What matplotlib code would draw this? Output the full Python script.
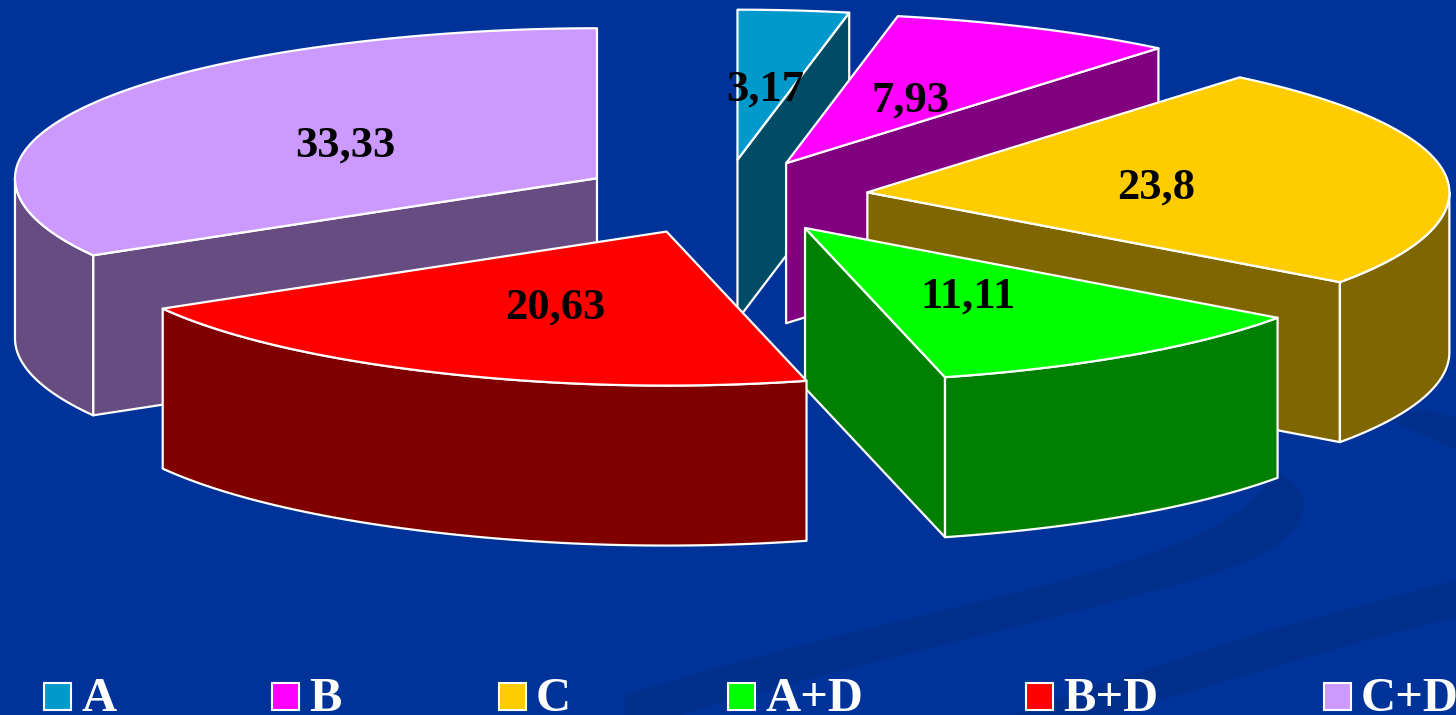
"""Exploded 3D pie on a blue slide background, drawn in pixel coordinates."""
import numpy as np
import matplotlib as mpl
mpl.use("Agg")
import matplotlib.pyplot as plt
from matplotlib.patches import PathPatch, Polygon, Rectangle
from matplotlib.path import Path

mpl.rcParams["font.family"] = ["Liberation Serif", "DejaVu Serif"]

names = ["A", "B", "C", "A+D", "B+D", "C+D"]
values = [3.17, 7.93, 23.8, 11.11, 20.63, 33.33]
labels = ["3,17", "7,93", "23,8", "11,11", "20,63", "33,33"]
colors = ["#0099CC", "#FF00FF", "#FFCC00", "#00FF00", "#FF0000", "#CC99FF"]
shades = ["#004C66", "#800080", "#806600", "#008000", "#800000", "#664C80"]

BG = "#003399"
SWOOSH = "#002F8C"
CX, CY = 723, 197      # pie centre
RX = 582               # ellipse radii of the top face
RY_BACK, RY_FRONT = 150, 154
DEPTH = 160
EXPLODE = 0.25
LEGEND_X = [44, 272, 499, 728, 1026, 1324]
DRAW_ORDER = [0, 1, 2, 5, 3, 4]


def rim(apex, deg):
    a = np.radians(deg)
    ry = RY_BACK if np.cos(a) > 0 else RY_FRONT
    # the original renderer pinches the ellipse a little near top and bottom
    pinch = 1 - 0.035 * np.cos(a) ** 8
    return apex[0] + RX * pinch * np.sin(a), apex[1] - ry * np.cos(a)


def wall(p, q):
    return [p, q, (q[0], q[1] + DEPTH), (p[0], p[1] + DEPTH)]


def face(ax, pts, color, z):
    ax.add_patch(Polygon(pts, closed=True, facecolor=color, edgecolor="white",
                         linewidth=1.6, joinstyle="round", zorder=z))


def swoosh(ax, verts, codes):
    ax.add_patch(PathPatch(Path(verts, codes), facecolor=SWOOSH, edgecolor="none", zorder=1))


fig = plt.figure(figsize=(14.56, 7.15), dpi=100, facecolor=BG)
ax = fig.add_axes([0, 0, 1, 1])
ax.set_xlim(0, 1456)
ax.set_ylim(715, 0)
ax.axis("off")

# faint background bands
M, L, C, Z = Path.MOVETO, Path.LINETO, Path.CURVE4, Path.CLOSEPOLY
swoosh(ax,
       [(625, 695), (800, 640), (1000, 600), (1100, 570),
        (1180, 545), (1250, 520), (1275, 470),
        (1295, 480), (1310, 500), (1302, 515),
        (1290, 550), (1230, 572), (1150, 592),
        (1000, 632), (850, 665), (680, 715),
        (625, 715), (625, 695)],
       [M, C, C, C, C, C, C, C, C, C, C, C, C, C, C, C, L, Z])
swoosh(ax,
       [(1456, 580), (1260, 633), (1093, 687), (1014, 715),
        (1120, 715), (1171, 697), (1367, 640), (1456, 617), (1456, 580)],
       [M, L, L, L, L, L, L, L, Z])
swoosh(ax,
       [(1380, 415), (1428, 410), (1456, 418), (1456, 450), (1380, 415)],
       [M, L, L, L, Z])

edges = np.concatenate([[0], np.cumsum(values)])
edges = edges / edges[-1] * 360

for z, i in enumerate(DRAW_ORDER):
    start, end = edges[i], edges[i + 1]
    mid_deg = (start + end) / 2
    mid = np.radians(mid_deg)
    apex = (CX + EXPLODE * RX * np.sin(mid), CY - EXPLODE * RY_BACK * np.cos(mid))
    zbase = 2 + z * 4

    # cut faces, only the ones turned to the viewer
    if np.sin(np.radians(end)) > 0.01:
        face(ax, wall(apex, rim(apex, end)), shades[i], zbase)
    if np.sin(np.radians(start)) < -0.01:
        face(ax, wall(apex, rim(apex, start)), shades[i], zbase)

    # outer wall, front half of the ellipse only
    lo, hi = max(start, 90), min(end, 270)
    if hi > lo:
        arc = [rim(apex, d) for d in np.linspace(lo, hi, 60)]
        low = [(x, y + DEPTH) for x, y in arc[::-1]]
        face(ax, arc + low, shades[i], zbase + 1)

    # top face
    top = [apex] + [rim(apex, d) for d in np.linspace(start, end, 90)]
    face(ax, top, colors[i], zbase + 2)

    edge = rim(apex, mid_deg)
    lx = (apex[0] + edge[0]) / 2
    ly = (apex[1] + edge[1]) / 2
    ax.text(lx, ly + 5, labels[i], ha="center", va="center", color="black",
            fontsize=32, fontweight="bold", zorder=60)

for x, name, color in zip(LEGEND_X, names, colors):
    ax.add_patch(Rectangle((x, 683), 27, 27, facecolor=color, edgecolor="white",
                           linewidth=1.5, zorder=60))
    ax.text(x + 37, 711, name, ha="left", va="baseline", color="white",
            fontsize=35, fontweight="bold", zorder=60)

fig.savefig("out.png", dpi=100, facecolor=BG)
